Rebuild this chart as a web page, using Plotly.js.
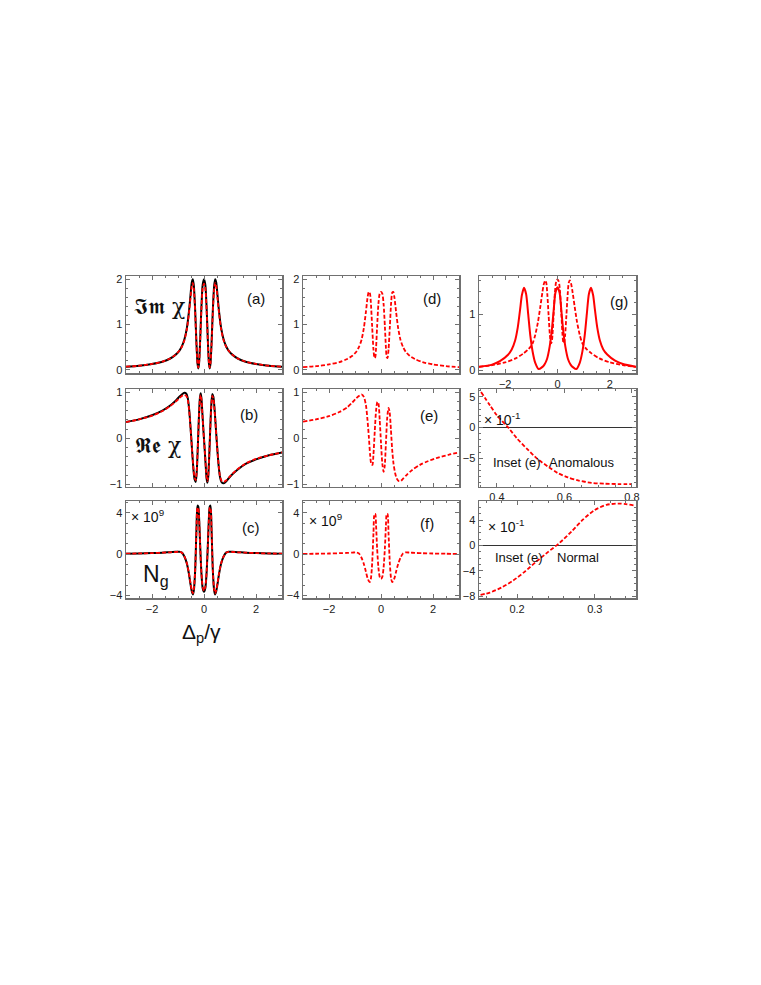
<!DOCTYPE html>
<html>
<head>
<meta charset="utf-8">
<script src="https://cdn.plot.ly/plotly-3.0.1.min.js"></script>
<style>html,body{margin:0;padding:0;background:#fff;}#plot{width:761px;height:985px;}</style>
</head>
<body>
<div id="plot"></div>
<script>
// ---------------- DATA ----------------
// common detuning grid for the three-peak panels (a), (c), (d), (f), (g-dashed)
const xPeaks = [-3,-2.5,-2,-1.6,-1.3,-1.1,-0.95,-0.85,-0.75,-0.66,-0.58,-0.52,-0.47,-0.43,-0.39,-0.34,-0.29,-0.25,-0.22,-0.19,-0.15,-0.1,-0.05,0,0.05,0.1,0.15,0.19,0.22,0.25,0.29,0.34,0.39,0.43,0.47,0.52,0.58,0.66,0.75,0.85,0.95,1.1,1.3,1.6,2,2.5,3];

// (a) Im chi
const imChiBlack = [0.07,0.09,0.13,0.18,0.25,0.33,0.42,0.52,0.68,0.92,1.28,1.64,1.93,2.0,1.85,1.32,0.58,0.14,0.03,0.14,0.62,1.38,1.88,2.0,1.88,1.38,0.62,0.14,0.03,0.14,0.58,1.32,1.85,2.0,1.93,1.64,1.28,0.92,0.68,0.52,0.42,0.33,0.25,0.18,0.13,0.09,0.07];
const imChiRed   = [0.07,0.09,0.13,0.18,0.25,0.33,0.42,0.51,0.66,0.89,1.24,1.58,1.85,1.92,1.78,1.26,0.56,0.15,0.05,0.15,0.60,1.32,1.80,1.90,1.80,1.32,0.60,0.15,0.05,0.15,0.56,1.26,1.78,1.92,1.85,1.58,1.24,0.89,0.66,0.51,0.42,0.33,0.25,0.18,0.13,0.09,0.07];

// (b) Re chi
const xRe = [-3,-2.5,-2,-1.6,-1.3,-1.1,-0.95,-0.85,-0.76,-0.68,-0.62,-0.57,-0.52,-0.48,-0.44,-0.40,-0.36,-0.32,-0.28,-0.24,-0.20,-0.16,-0.13,-0.10,-0.06,-0.03,0,0.03,0.06,0.10,0.13,0.16,0.20,0.24,0.28,0.32,0.36,0.40,0.44,0.48,0.52,0.57,0.62,0.68,0.76,0.85,0.95,1.1,1.3,1.6,2,2.5,3];
const reChiBlack = [0.35,0.41,0.50,0.60,0.71,0.81,0.90,0.95,0.99,0.97,0.86,0.62,0.25,-0.08,-0.42,-0.72,-0.90,-0.95,-0.74,-0.22,0.40,0.86,0.98,0.88,0.52,0.24,-0.02,-0.28,-0.55,-0.88,-0.97,-0.86,-0.40,0.20,0.72,0.96,0.90,0.68,0.36,0.02,-0.30,-0.64,-0.86,-0.96,-0.98,-0.94,-0.87,-0.78,-0.68,-0.56,-0.46,-0.37,-0.31];
const reChiRed   = [0.35,0.41,0.49,0.59,0.70,0.79,0.87,0.92,0.94,0.92,0.82,0.60,0.24,-0.08,-0.40,-0.69,-0.86,-0.91,-0.71,-0.21,0.38,0.82,0.94,0.85,0.50,0.23,-0.02,-0.27,-0.53,-0.85,-0.93,-0.83,-0.39,0.19,0.69,0.92,0.86,0.65,0.34,0.01,-0.30,-0.62,-0.84,-0.93,-0.95,-0.92,-0.86,-0.77,-0.67,-0.55,-0.45,-0.37,-0.31];

// (c) group index N_g (x 10^9)
const ngBlack = [0.05,0.07,0.10,0.14,0.19,0.22,0.24,0.15,-0.25,-0.9,-1.9,-2.9,-3.6,-3.9,-3.5,-1.6,2.4,4.7,4.6,3.6,1.0,-1.8,-3.3,-3.65,-3.3,-1.8,1.0,3.6,4.6,4.7,2.4,-1.6,-3.5,-3.9,-3.6,-2.9,-1.9,-0.9,-0.25,0.15,0.24,0.22,0.19,0.14,0.10,0.07,0.05];
const ngRed   = [0.05,0.07,0.10,0.14,0.18,0.21,0.23,0.14,-0.25,-0.88,-1.85,-2.8,-3.5,-3.8,-3.4,-1.55,2.3,4.5,4.45,3.5,0.95,-1.75,-3.2,-3.55,-3.2,-1.75,0.95,3.5,4.45,4.5,2.3,-1.55,-3.4,-3.8,-3.5,-2.8,-1.85,-0.88,-0.25,0.14,0.23,0.21,0.18,0.14,0.10,0.07,0.05];

// (d) Im chi, dashed
const imChiD = [0.06,0.08,0.12,0.17,0.24,0.31,0.40,0.50,0.66,0.92,1.28,1.58,1.72,1.70,1.48,0.95,0.45,0.26,0.28,0.48,0.95,1.45,1.68,1.72,1.68,1.45,0.95,0.48,0.28,0.26,0.45,0.95,1.48,1.70,1.72,1.58,1.28,0.92,0.66,0.50,0.40,0.31,0.24,0.17,0.12,0.08,0.06];

// (e) Re chi, dashed
const xE = [-3,-2.5,-2,-1.6,-1.3,-1.1,-0.95,-0.82,-0.74,-0.66,-0.58,-0.52,-0.47,-0.42,-0.37,-0.33,-0.29,-0.24,-0.19,-0.14,-0.10,-0.05,0,0.05,0.10,0.14,0.19,0.24,0.29,0.33,0.38,0.43,0.48,0.54,0.60,0.68,0.76,0.85,1.0,1.2,1.5,1.8,2.2,2.6,3];
const reChiE = [0.36,0.41,0.48,0.57,0.67,0.78,0.87,0.93,0.95,0.90,0.72,0.40,0.05,-0.35,-0.57,-0.58,-0.35,0.15,0.60,0.79,0.76,0.40,-0.10,-0.55,-0.73,-0.62,-0.10,0.45,0.66,0.58,0.20,-0.25,-0.55,-0.75,-0.87,-0.93,-0.93,-0.88,-0.79,-0.69,-0.58,-0.50,-0.42,-0.36,-0.31];

// (f) N_g (x 10^9), dashed
const ngF = [0.02,0.04,0.06,0.09,0.12,0.15,0.17,0.08,-0.35,-0.95,-1.7,-2.3,-2.6,-2.7,-2.4,-0.9,2.0,3.9,3.9,2.8,0.6,-1.3,-2.2,-2.4,-2.2,-1.3,0.6,2.8,3.9,3.9,2.0,-0.9,-2.4,-2.7,-2.6,-2.3,-1.7,-0.95,-0.35,0.08,0.17,0.15,0.12,0.09,0.06,0.04,0.02];

// (g) solid and dashed Im chi
const xG = [-3,-2.5,-2.2,-1.9,-1.75,-1.62,-1.52,-1.43,-1.36,-1.28,-1.2,-1.12,-1.04,-0.95,-0.85,-0.72,-0.6,-0.5,-0.4,-0.3,-0.22,-0.15,-0.08,0,0.08,0.15,0.22,0.3,0.4,0.5,0.6,0.72,0.85,0.95,1.04,1.12,1.2,1.28,1.36,1.43,1.52,1.62,1.75,1.9,2.2,2.5,3];
const imChiGSolid = [0.06,0.10,0.16,0.27,0.37,0.53,0.76,1.08,1.34,1.47,1.36,1.0,0.62,0.33,0.13,0.02,0.05,0.10,0.20,0.42,0.70,1.05,1.38,1.48,1.38,1.05,0.70,0.42,0.20,0.10,0.05,0.02,0.13,0.33,0.62,1.0,1.36,1.47,1.34,1.08,0.76,0.53,0.37,0.28,0.17,0.11,0.06];
const imChiGDash  = [0.06,0.09,0.14,0.21,0.30,0.38,0.48,0.63,0.85,1.12,1.38,1.54,1.60,1.56,1.36,0.98,0.62,0.48,0.50,0.64,0.98,1.38,1.58,1.62,1.58,1.38,0.98,0.64,0.50,0.48,0.62,0.98,1.36,1.56,1.60,1.54,1.38,1.12,0.85,0.63,0.48,0.38,0.30,0.21,0.14,0.09,0.06];

// Inset (e): anomalous region (x 10^-1)
const xAnom = [0.353,0.38,0.40,0.434,0.46,0.49,0.52,0.55,0.58,0.61,0.64,0.68,0.72,0.76,0.80];
const yAnom = [5.8,3.6,2.0,0,-1.8,-3.5,-5.1,-6.3,-7.4,-8.1,-8.6,-9.0,-9.15,-9.2,-9.2];

// Inset (e): normal region (x 10^-1)
const xNorm = [0.153,0.165,0.18,0.195,0.21,0.225,0.24,0.255,0.27,0.285,0.30,0.315,0.33,0.34,0.35];
const yNorm = [-7.75,-7.4,-6.6,-5.5,-4.1,-2.5,-1.0,0.45,2.2,4.1,5.6,6.4,6.6,6.5,6.3];

// tick labels
const ticksMainX = [-2,0,2];
const ticksIm = [0,1,2];
const ticksImG = [0,1];
const ticksRe = [-1,0,1];
const ticksNg = [-4,0,4];
const ticksAnomX = [0.4,0.6,0.8];
const ticksAnomY = [-5,0,5];
const ticksNormX = [0.2,0.3];
const ticksNormY = [-8,-4,0,4];

// ---------------- LAYOUT ----------------
const W = 761, H = 985;
const px = x => x / W;
const py = y => 1 - y / H;
const cols = [[126,282],[303,459],[479,636]];
const rows = [[276,373],[389,486.5],[501,598]];
const RED = 'rgb(255,0,0)';
const DASH = '4px,2px';
const FRAME = '#707070';
const tickFont = {family: 'Liberation Sans, Arial, sans-serif', size: 11, color: '#222'};

function xax(col, row, range, tickvals, showLabels, minorDt) {
  const n = col*3 + row + 1;
  return {
    domain: [px(cols[col][0]), px(cols[col][1])], range: range, anchor: 'y' + (n === 1 ? '' : n),
    showline: true, mirror: 'ticks', linecolor: FRAME, linewidth: 1.5,
    ticks: 'inside', ticklen: 4, tickwidth: 1, tickcolor: FRAME,
    tickvals: tickvals, showticklabels: showLabels, tickfont: tickFont,
    showgrid: false, zeroline: false, fixedrange: true,
    minor: {ticks: 'inside', ticklen: 2, tickcolor: FRAME, dtick: minorDt, showgrid: false}
  };
}
function yax(col, row, range, tickvals, minorDt, zl) {
  const n = col*3 + row + 1;
  return {
    domain: [py(rows[row][1]), py(rows[row][0])], range: range, anchor: 'x' + (n === 1 ? '' : n),
    showline: true, mirror: 'ticks', linecolor: FRAME, linewidth: 1.5,
    ticks: 'inside', ticklen: 4, tickwidth: 1, tickcolor: FRAME,
    tickvals: tickvals, showticklabels: true, tickfont: tickFont,
    showgrid: false, zeroline: !!zl, zerolinecolor: '#333', zerolinewidth: 1, fixedrange: true,
    minor: {ticks: 'inside', ticklen: 2, tickcolor: FRAME, dtick: minorDt, showgrid: false}
  };
}

const layout = {
  width: W, height: H, autosize: false,
  margin: {l: 0, r: 0, t: 0, b: 0},
  paper_bgcolor: '#fff', plot_bgcolor: '#fff',
  showlegend: false,
  font: {family: 'Liberation Sans, Arial, sans-serif', color: '#111'},
  xaxis:  xax(0,0,[-3,3],ticksMainX,false,0.5),
  yaxis:  yax(0,0,[-0.07,2.07],ticksIm,0.2),
  xaxis2: xax(0,1,[-3,3],ticksMainX,false,0.5),
  yaxis2: yax(0,1,[-1.05,1.07],ticksRe,0.2),
  xaxis3: xax(0,2,[-3,3],ticksMainX,true,0.5),
  yaxis3: yax(0,2,[-4.25,5.15],ticksNg,1),
  xaxis4: xax(1,0,[-3,3],ticksMainX,false,0.5),
  yaxis4: yax(1,0,[-0.07,2.07],ticksIm,0.2),
  xaxis5: xax(1,1,[-3,3],ticksMainX,false,0.5),
  yaxis5: yax(1,1,[-1.05,1.07],ticksRe,0.2),
  xaxis6: xax(1,2,[-3,3],ticksMainX,true,0.5),
  yaxis6: yax(1,2,[-4.25,5.15],ticksNg,1),
  xaxis7: xax(2,0,[-3,3],ticksMainX,true,0.5),
  yaxis7: yax(2,0,[-0.05,1.68],ticksImG,0.2),
  xaxis8: xax(2,1,[0.347,0.812],ticksAnomX,true,0.05),
  yaxis8: yax(2,1,[-9.6,6.3],ticksAnomY,1,true),
  xaxis9: xax(2,2,[0.151,0.353],ticksNormX,true,0.02),
  yaxis9: yax(2,2,[-8.25,7.0],ticksNormY,1,true),
  annotations: []
};

function ann(text, x, y, size, opts) {
  layout.annotations.push(Object.assign({
    text: text, xref: 'paper', yref: 'paper', x: px(x), y: py(y),
    xanchor: 'center', yanchor: 'middle', showarrow: false,
    font: {family: 'Liberation Sans, Arial, sans-serif', size: size, color: '#111'}
  }, opts || {}));
}
ann('(a)', 256, 299, 15);
ann('(b)', 249, 414, 15);
ann('(c)', 251, 527, 15);
ann('(d)', 432, 299, 15);
ann('(e)', 429, 415, 15);
ann('(f)', 427, 523, 15);
ann('(g)', 619, 301, 15);
ann('𝕴𝖒 χ', 159, 306, 22, {font: {family: 'DejaVu Serif, serif', size: 22, color: '#111'}});
ann('𝕽𝖊 χ', 158, 445, 22, {font: {family: 'DejaVu Serif, serif', size: 22, color: '#111'}});
ann('× 10<sup>9</sup>', 129, 516, 14, {xanchor: 'left'});
ann('× 10<sup>9</sup>', 307, 520, 14, {xanchor: 'left'});
ann('N<sub>g</sub>', 156, 575, 23);
ann('Δ<sub>p</sub>/γ', 202, 633, 21);
ann('× 10<sup>-1</sup>', 482, 419, 14, {xanchor: 'left'});
ann('Inset (e)', 517, 462, 13);
ann('Anomalous', 582, 462, 13);
ann('× 10<sup>-1</sup>', 486, 526, 14, {xanchor: 'left'});
ann('Inset (e)', 519, 557, 13);
ann('Normal', 578, 557, 13);

// ---------------- TRACES ----------------
const solid = c => ({color: c, width: 2, shape: 'spline', smoothing: 0.7});
const dashed = {color: RED, width: 1.8, dash: DASH, shape: 'spline', smoothing: 0.7};
const data = [
  {x: xPeaks, y: imChiBlack, xaxis: 'x', yaxis: 'y', mode: 'lines', line: solid('#000')},
  {x: xPeaks, y: imChiRed, xaxis: 'x', yaxis: 'y', mode: 'lines', line: dashed},
  {x: xRe, y: reChiBlack, xaxis: 'x2', yaxis: 'y2', mode: 'lines', line: solid('#000')},
  {x: xRe, y: reChiRed, xaxis: 'x2', yaxis: 'y2', mode: 'lines', line: dashed},
  {x: xPeaks, y: ngBlack, xaxis: 'x3', yaxis: 'y3', mode: 'lines', line: solid('#000')},
  {x: xPeaks, y: ngRed, xaxis: 'x3', yaxis: 'y3', mode: 'lines', line: dashed},
  {x: xPeaks, y: imChiD, xaxis: 'x4', yaxis: 'y4', mode: 'lines', line: dashed},
  {x: xE, y: reChiE, xaxis: 'x5', yaxis: 'y5', mode: 'lines', line: dashed},
  {x: xPeaks, y: ngF, xaxis: 'x6', yaxis: 'y6', mode: 'lines', line: dashed},
  {x: xG, y: imChiGSolid, xaxis: 'x7', yaxis: 'y7', mode: 'lines', line: solid(RED)},
  {x: xPeaks, y: imChiGDash, xaxis: 'x7', yaxis: 'y7', mode: 'lines', line: dashed},
  {x: xAnom, y: yAnom, xaxis: 'x8', yaxis: 'y8', mode: 'lines', line: dashed},
  {x: xNorm, y: yNorm, xaxis: 'x9', yaxis: 'y9', mode: 'lines', line: dashed}
];

Plotly.newPlot('plot', data, layout, {displayModeBar: false, staticPlot: true});
</script>
</body>
</html>
